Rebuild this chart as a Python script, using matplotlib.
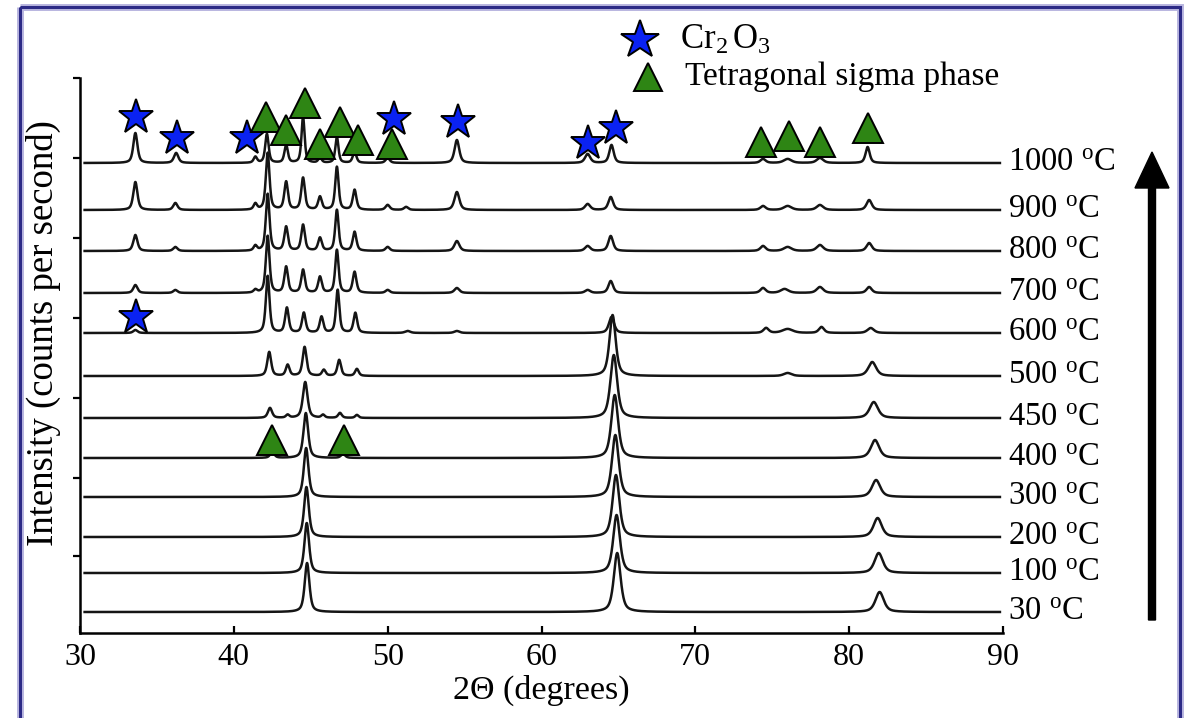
"""
In-situ XRD patterns, stacked by annealing temperature
"""

import numpy as np
import matplotlib
matplotlib.use("Agg")
import matplotlib.pyplot as plt
from matplotlib.patches import FancyArrow, Rectangle

plt.rcParams["font.family"] = ["Liberation Serif", "DejaVu Serif"]
plt.rcParams["mathtext.fontset"] = "custom"
plt.rcParams["mathtext.rm"] = "Liberation Serif"
plt.rcParams["mathtext.it"] = "Liberation Serif:italic"

# temperature labels and vertical stacking offset of each pattern
temps = ["30", "100", "200", "300", "400", "450", "500", "600", "700", "800", "900", "1000"]
offsets = [21, 60, 96, 136, 175, 215, 257, 300, 340, 382, 423, 470]

# peaks: (2theta, height, half width)
peaks_30 = [(44.76, 49, .18), (64.92, 59, .26), (81.98, 20, .32)]
peaks_100 = [(44.74, 50, .18), (64.88, 58, .26), (81.92, 20, .32)]
peaks_200 = [(44.72, 50, .18), (64.84, 62, .26), (81.85, 19, .32)]
peaks_300 = [(44.70, 49, .18), (64.80, 62, .26), (81.75, 17, .32)]
peaks_400 = [(42.5, 6, .16), (44.68, 45, .18), (47.1, 4, .16), (64.76, 63, .26), (81.68, 18, .32)]
peaks_450 = [(42.35, 10, .16), (43.5, 3, .13), (44.64, 36, .18), (45.8, 3, .13), (46.9, 5, .14),
             (48.0, 3, .13), (64.70, 63, .26), (81.6, 16, .32)]
peaks_500 = [(42.3, 24, .15), (43.5, 11, .14), (44.6, 29, .15), (45.85, 6, .14), (46.85, 16, .14),
             (48.0, 7, .14), (64.62, 61, .24), (76.0, 3, .3), (81.5, 14, .3)]
peaks_600 = [(33.6, 3, .16), (42.2, 57, .14), (43.45, 25, .14), (44.55, 20, .14), (45.7, 16, .14),
             (46.75, 43, .13), (47.9, 20, .14), (51.3, 2, .2), (54.5, 2, .2), (64.55, 16, .2),
             (74.6, 5, .2), (76.0, 4, .4), (78.2, 6, .2), (81.4, 5, .25)]
peaks_700 = [(33.6, 8, .16), (36.2, 3, .16), (41.4, 3, .13), (42.2, 57, .14), (43.4, 26, .14),
             (44.5, 23, .14), (45.6, 16, .14), (46.7, 43, .13), (47.85, 21, .14), (50.0, 3, .16),
             (54.5, 5, .19), (63.0, 3, .2), (64.5, 12, .18), (74.4, 5, .2), (75.8, 4, .3),
             (78.1, 6, .25), (81.3, 6, .2)]
peaks_800 = [(33.6, 16, .16), (36.2, 4, .16), (41.4, 5, .13), (42.2, 57, .14), (43.4, 24, .14),
             (44.5, 26, .14), (45.6, 13, .14), (46.7, 41, .13), (47.85, 19, .14), (50.0, 4, .16),
             (54.5, 10, .19), (63.0, 5, .2), (64.5, 15, .18), (74.4, 5, .2), (76.0, 4, .3),
             (78.1, 6, .25), (81.3, 8, .2)]
peaks_900 = [(33.6, 28, .16), (36.2, 7, .16), (41.4, 6, .13), (42.2, 57, .14), (43.4, 28, .14),
             (44.5, 32, .14), (45.6, 13, .14), (46.7, 43, .13), (47.85, 20, .14), (50.0, 5, .16),
             (51.2, 3, .16), (54.5, 18, .19), (63.0, 6, .2), (64.5, 13, .18), (74.4, 4, .2),
             (76.0, 4, .3), (78.1, 5, .25), (81.3, 10, .2)]
peaks_1000 = [(33.6, 30, .16), (36.25, 10, .17), (41.4, 6, .13), (42.15, 29, .13), (43.4, 18, .13),
              (44.5, 46, .12), (45.6, 5, .13), (46.7, 26, .12), (47.85, 11, .14), (50.0, 5, .16),
              (54.5, 23, .18), (63.0, 9, .2), (64.55, 18, .17), (74.4, 4, .2), (76.0, 4, .3),
              (78.1, 5, .25), (81.2, 16, .16)]

patterns = [peaks_30, peaks_100, peaks_200, peaks_300, peaks_400, peaks_450,
            peaks_500, peaks_600, peaks_700, peaks_800, peaks_900, peaks_1000]

# phase markers (2theta, height in stacked units)
star_x = [33.64, 36.31, 40.86, 50.41, 54.57, 63.02, 64.84, 33.64]
star_y = [516, 495, 495, 514, 511, 490, 505, 316]
tri_x = [42.09, 43.39, 44.63, 45.60, 46.90, 48.07, 50.28, 74.27, 76.09, 78.11, 81.23, 42.48, 47.16]
tri_y = [516, 503, 530, 489, 511, 493, 489, 491, 497, 491, 505, 193, 193]

STAR_BLUE = "#0a22f2"
TRI_GREEN = "#2e8514"


def profile(x, peaks, eta=0.6):
    y = np.zeros_like(x)
    for c, h, w in peaks:
        u = (x - c) / w
        y += h * (eta / (1 + u ** 2) + (1 - eta) * np.exp(-np.log(2) * u ** 2))
    return y


fig = plt.figure(figsize=(11.88, 7.18), dpi=100)
ax = fig.add_axes([80 / 1188, 85 / 718, 923 / 1188, 555 / 718])

tt = np.linspace(30.3, 89.8, 4000)
for temp, off, pk in zip(temps, offsets, patterns):
    ax.plot(tt, off + profile(tt, pk), color="#151515", lw=1.8, zorder=2)
    ax.text(90.3, off, f"{temp} " + r"$^{\mathrm{o}}$C", fontsize=23.5,
            va="center", ha="left", clip_on=False)

ax.plot(star_x, star_y, ls="none", marker="*", ms=26, mfc=STAR_BLUE,
        mec="black", mew=1.4, zorder=4)
ax.plot(tri_x, tri_y, ls="none", marker="^", ms=21, mfc=TRI_GREEN,
        mec="black", mew=1.4, zorder=4)

ax.set_xlim(30, 90)
ax.set_ylim(0, 555)
ax.set_xticks([30, 40, 50, 60, 70, 80, 90])
ax.set_yticks([77, 155, 235, 315, 395, 475, 555])
ax.set_yticklabels([])
ax.tick_params(axis="x", direction="in", length=5, width=1.6, labelsize=23, pad=7)
ax.tick_params(axis="y", direction="out", length=5, width=1.6)
for s in ["top", "right"]:
    ax.spines[s].set_visible(False)
for s in ["left", "bottom"]:
    ax.spines[s].set_linewidth(1.8)

ax.set_xlabel("2Θ (degrees)", fontsize=24.5)
ax.xaxis.label.set_va("center")
ax.xaxis.set_label_coords(0.5, -0.103)
ax.set_ylabel("Intensity (counts per second)", fontsize=26.5)
ax.yaxis.label.set_va("center")
ax.yaxis.set_label_coords(-0.04, 0.54)

# overlay in pixel units for legend, arrow and frame
ov = fig.add_axes([0, 0, 1, 1], zorder=5)
ov.set_xlim(0, 1188)
ov.set_ylim(718, 0)
ov.axis("off")
ov.patch.set_alpha(0)

ov.plot([640], [40], marker="*", ms=29, mfc=STAR_BLUE, mec="black", mew=1.4)
ov.plot([648], [77], marker="^", ms=20, mfc=TRI_GREEN, mec="black", mew=1.4)
ov.text(680, 40, r"Cr$_{2}\,$O$_{3}$", fontsize=25, va="center", ha="left")
ov.text(685, 77, "Tetragonal sigma phase", fontsize=24, va="center", ha="left")

ov.add_patch(FancyArrow(1152, 620, 0, -468, width=7, head_width=34, head_length=36,
                        length_includes_head=True, color="black"))
ov.add_patch(Rectangle((20, 7), 1160, 740, fill=False, edgecolor="#b9b6e0", lw=5, clip_on=False))
ov.add_patch(Rectangle((20, 7), 1160, 740, fill=False, edgecolor="#2c2a86", lw=2.2, clip_on=False))

fig.savefig("out.png", dpi=100)
print("Saved: out.png")
